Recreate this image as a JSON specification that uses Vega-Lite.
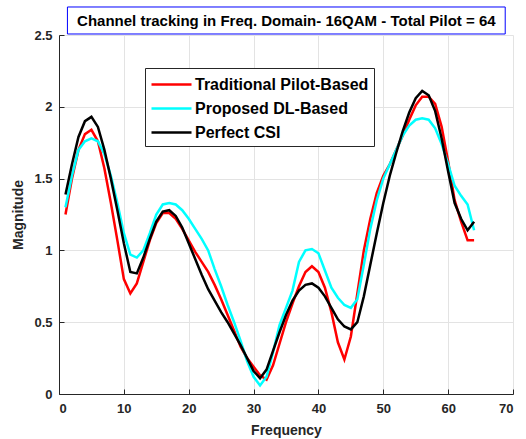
{
  "$schema": "https://vega.github.io/schema/vega-lite/v6.json",
  "autosize": {"type": "none"},
  "width": 454,
  "height": 359,
  "padding": {"left": 59, "top": 35, "right": 13, "bottom": 45},
  "background": "white",
  "config": {
    "view": {"stroke": null},
    "axis": {
      "labelFont": "Liberation Sans",
      "labelFontSize": 13,
      "labelFontWeight": "bold",
      "labelColor": "#262626",
      "titleFont": "Liberation Sans",
      "titleFontSize": 14,
      "titleFontWeight": "bold",
      "titleColor": "#262626",
      "domainColor": "#262626",
      "tickColor": "#262626",
      "tickSize": -5,
      "gridColor": "#e3e3e3",
      "gridWidth": 1
    }
  },
  "datasets": {
    "csi": [
      {"f": 1, "Traditional Pilot-Based": 1.25, "Proposed DL-Based": 1.30, "Perfect CSI": 1.39},
      {"f": 2, "Traditional Pilot-Based": 1.50, "Proposed DL-Based": 1.52, "Perfect CSI": 1.60},
      {"f": 3, "Traditional Pilot-Based": 1.70, "Proposed DL-Based": 1.70, "Perfect CSI": 1.79},
      {"f": 4, "Traditional Pilot-Based": 1.81, "Proposed DL-Based": 1.76, "Perfect CSI": 1.90},
      {"f": 5, "Traditional Pilot-Based": 1.84, "Proposed DL-Based": 1.78, "Perfect CSI": 1.93},
      {"f": 6, "Traditional Pilot-Based": 1.76, "Proposed DL-Based": 1.76, "Perfect CSI": 1.86},
      {"f": 7, "Traditional Pilot-Based": 1.57, "Proposed DL-Based": 1.67, "Perfect CSI": 1.70},
      {"f": 8, "Traditional Pilot-Based": 1.33, "Proposed DL-Based": 1.52, "Perfect CSI": 1.50},
      {"f": 9, "Traditional Pilot-Based": 1.07, "Proposed DL-Based": 1.33, "Perfect CSI": 1.28},
      {"f": 10, "Traditional Pilot-Based": 0.80, "Proposed DL-Based": 1.12, "Perfect CSI": 1.05},
      {"f": 11, "Traditional Pilot-Based": 0.70, "Proposed DL-Based": 0.97, "Perfect CSI": 0.85},
      {"f": 12, "Traditional Pilot-Based": 0.77, "Proposed DL-Based": 0.95, "Perfect CSI": 0.84},
      {"f": 13, "Traditional Pilot-Based": 0.92, "Proposed DL-Based": 1.00, "Perfect CSI": 0.95},
      {"f": 14, "Traditional Pilot-Based": 1.07, "Proposed DL-Based": 1.12, "Perfect CSI": 1.08},
      {"f": 15, "Traditional Pilot-Based": 1.19, "Proposed DL-Based": 1.25, "Perfect CSI": 1.20},
      {"f": 16, "Traditional Pilot-Based": 1.26, "Proposed DL-Based": 1.32, "Perfect CSI": 1.27},
      {"f": 17, "Traditional Pilot-Based": 1.26, "Proposed DL-Based": 1.33, "Perfect CSI": 1.28},
      {"f": 18, "Traditional Pilot-Based": 1.22, "Proposed DL-Based": 1.32, "Perfect CSI": 1.24},
      {"f": 19, "Traditional Pilot-Based": 1.15, "Proposed DL-Based": 1.28, "Perfect CSI": 1.16},
      {"f": 20, "Traditional Pilot-Based": 1.07, "Proposed DL-Based": 1.22, "Perfect CSI": 1.05},
      {"f": 21, "Traditional Pilot-Based": 0.99, "Proposed DL-Based": 1.15, "Perfect CSI": 0.94},
      {"f": 22, "Traditional Pilot-Based": 0.92, "Proposed DL-Based": 1.08, "Perfect CSI": 0.83},
      {"f": 23, "Traditional Pilot-Based": 0.85, "Proposed DL-Based": 1.00, "Perfect CSI": 0.73},
      {"f": 24, "Traditional Pilot-Based": 0.76, "Proposed DL-Based": 0.87, "Perfect CSI": 0.65},
      {"f": 25, "Traditional Pilot-Based": 0.66, "Proposed DL-Based": 0.75, "Perfect CSI": 0.57},
      {"f": 26, "Traditional Pilot-Based": 0.55, "Proposed DL-Based": 0.62, "Perfect CSI": 0.50},
      {"f": 27, "Traditional Pilot-Based": 0.44, "Proposed DL-Based": 0.50, "Perfect CSI": 0.42},
      {"f": 28, "Traditional Pilot-Based": 0.33, "Proposed DL-Based": 0.37, "Perfect CSI": 0.34},
      {"f": 29, "Traditional Pilot-Based": 0.25, "Proposed DL-Based": 0.23, "Perfect CSI": 0.25},
      {"f": 30, "Traditional Pilot-Based": 0.19, "Proposed DL-Based": 0.12, "Perfect CSI": 0.16},
      {"f": 31, "Traditional Pilot-Based": 0.13, "Proposed DL-Based": 0.06, "Perfect CSI": 0.11},
      {"f": 32, "Traditional Pilot-Based": 0.10, "Proposed DL-Based": 0.12, "Perfect CSI": 0.17},
      {"f": 33, "Traditional Pilot-Based": 0.20, "Proposed DL-Based": 0.29, "Perfect CSI": 0.30},
      {"f": 34, "Traditional Pilot-Based": 0.35, "Proposed DL-Based": 0.48, "Perfect CSI": 0.43},
      {"f": 35, "Traditional Pilot-Based": 0.50, "Proposed DL-Based": 0.60, "Perfect CSI": 0.55},
      {"f": 36, "Traditional Pilot-Based": 0.63, "Proposed DL-Based": 0.72, "Perfect CSI": 0.65},
      {"f": 37, "Traditional Pilot-Based": 0.75, "Proposed DL-Based": 0.92, "Perfect CSI": 0.72},
      {"f": 38, "Traditional Pilot-Based": 0.85, "Proposed DL-Based": 1.00, "Perfect CSI": 0.76},
      {"f": 39, "Traditional Pilot-Based": 0.89, "Proposed DL-Based": 1.01, "Perfect CSI": 0.77},
      {"f": 40, "Traditional Pilot-Based": 0.85, "Proposed DL-Based": 0.98, "Perfect CSI": 0.74},
      {"f": 41, "Traditional Pilot-Based": 0.74, "Proposed DL-Based": 0.86, "Perfect CSI": 0.68},
      {"f": 42, "Traditional Pilot-Based": 0.57, "Proposed DL-Based": 0.74, "Perfect CSI": 0.60},
      {"f": 43, "Traditional Pilot-Based": 0.36, "Proposed DL-Based": 0.67, "Perfect CSI": 0.52},
      {"f": 44, "Traditional Pilot-Based": 0.24, "Proposed DL-Based": 0.62, "Perfect CSI": 0.47},
      {"f": 45, "Traditional Pilot-Based": 0.40, "Proposed DL-Based": 0.60, "Perfect CSI": 0.45},
      {"f": 46, "Traditional Pilot-Based": 0.70, "Proposed DL-Based": 0.66, "Perfect CSI": 0.50},
      {"f": 47, "Traditional Pilot-Based": 1.00, "Proposed DL-Based": 0.90, "Perfect CSI": 0.68},
      {"f": 48, "Traditional Pilot-Based": 1.22, "Proposed DL-Based": 1.15, "Perfect CSI": 0.90},
      {"f": 49, "Traditional Pilot-Based": 1.40, "Proposed DL-Based": 1.35, "Perfect CSI": 1.12},
      {"f": 50, "Traditional Pilot-Based": 1.52, "Proposed DL-Based": 1.50, "Perfect CSI": 1.33},
      {"f": 51, "Traditional Pilot-Based": 1.60, "Proposed DL-Based": 1.60, "Perfect CSI": 1.52},
      {"f": 52, "Traditional Pilot-Based": 1.70, "Proposed DL-Based": 1.70, "Perfect CSI": 1.68},
      {"f": 53, "Traditional Pilot-Based": 1.80, "Proposed DL-Based": 1.80, "Perfect CSI": 1.83},
      {"f": 54, "Traditional Pilot-Based": 1.91, "Proposed DL-Based": 1.87, "Perfect CSI": 1.96},
      {"f": 55, "Traditional Pilot-Based": 2.01, "Proposed DL-Based": 1.91, "Perfect CSI": 2.06},
      {"f": 56, "Traditional Pilot-Based": 2.07, "Proposed DL-Based": 1.92, "Perfect CSI": 2.11},
      {"f": 57, "Traditional Pilot-Based": 2.07, "Proposed DL-Based": 1.91, "Perfect CSI": 2.08},
      {"f": 58, "Traditional Pilot-Based": 2.02, "Proposed DL-Based": 1.85, "Perfect CSI": 1.97},
      {"f": 59, "Traditional Pilot-Based": 1.86, "Proposed DL-Based": 1.74, "Perfect CSI": 1.78},
      {"f": 60, "Traditional Pilot-Based": 1.62, "Proposed DL-Based": 1.60, "Perfect CSI": 1.55},
      {"f": 61, "Traditional Pilot-Based": 1.35, "Proposed DL-Based": 1.45, "Perfect CSI": 1.33},
      {"f": 62, "Traditional Pilot-Based": 1.20, "Proposed DL-Based": 1.38, "Perfect CSI": 1.22},
      {"f": 63, "Traditional Pilot-Based": 1.07, "Proposed DL-Based": 1.32, "Perfect CSI": 1.14},
      {"f": 64, "Traditional Pilot-Based": 1.07, "Proposed DL-Based": 1.14, "Perfect CSI": 1.20}
    ]
  },
  "layer": [
    {
      "data": {"name": "csi"},
      "transform": [
        {"fold": ["Traditional Pilot-Based", "Proposed DL-Based", "Perfect CSI"], "as": ["method", "value"]}
      ],
      "mark": {"type": "line", "strokeWidth": 2.5, "clip": false},
      "encoding": {
        "x": {
          "field": "f",
          "type": "quantitative",
          "title": "Frequency",
          "scale": {"domain": [0, 70], "nice": false, "zero": false},
          "axis": {"values": [0, 10, 20, 30, 40, 50, 60, 70], "labelPadding": 13, "titlePadding": 8, "grid": true}
        },
        "y": {
          "field": "value",
          "type": "quantitative",
          "title": "Magnitude",
          "scale": {"domain": [0, 2.5], "nice": false},
          "axis": {"values": [0, 0.5, 1, 1.5, 2, 2.5], "format": "~g", "labelPadding": 12, "titlePadding": 8, "grid": true}
        },
        "color": {
          "field": "method",
          "type": "nominal",
          "sort": ["Traditional Pilot-Based", "Proposed DL-Based", "Perfect CSI"],
          "scale": {
            "domain": ["Traditional Pilot-Based", "Proposed DL-Based", "Perfect CSI"],
            "range": ["#ff0000", "#00ffff", "#000000"]
          },
          "legend": {
            "title": null,
            "orient": "none",
            "legendX": 86,
            "legendY": 33,
            "symbolType": "M-2,0H2",
            "symbolSize": 400,
            "symbolStrokeWidth": 2.5,
            "symbolOffset": 10,
            "labelFont": "Liberation Sans",
            "labelFontSize": 16,
            "labelFontWeight": "bold",
            "labelColor": "#000000",
            "labelLimit": 300,
            "labelOffset": 12,
            "rowPadding": 4,
            "padding": 5,
            "strokeColor": "#262626",
            "fillColor": "white"
          }
        }
      }
    },
    {
      "data": {"values": [{}]},
      "mark": {"type": "rect", "fill": "white", "stroke": "#0000ff", "strokeWidth": 1, "clip": false},
      "encoding": {
        "x": {"datum": 1.3, "type": "quantitative"},
        "x2": {"datum": 68.8},
        "y": {"datum": 2.507, "type": "quantitative"},
        "y2": {"datum": 2.695}
      }
    },
    {
      "data": {"values": [{}]},
      "mark": {
        "type": "text",
        "text": "Channel tracking in Freq. Domain- 16QAM - Total Pilot = 64",
        "font": "Liberation Sans",
        "fontSize": 15,
        "fontWeight": "bold",
        "color": "#000000",
        "align": "center",
        "baseline": "middle",
        "clip": false
      },
      "encoding": {
        "x": {"datum": 35.05, "type": "quantitative"},
        "y": {"datum": 2.6, "type": "quantitative"}
      }
    }
  ]
}
